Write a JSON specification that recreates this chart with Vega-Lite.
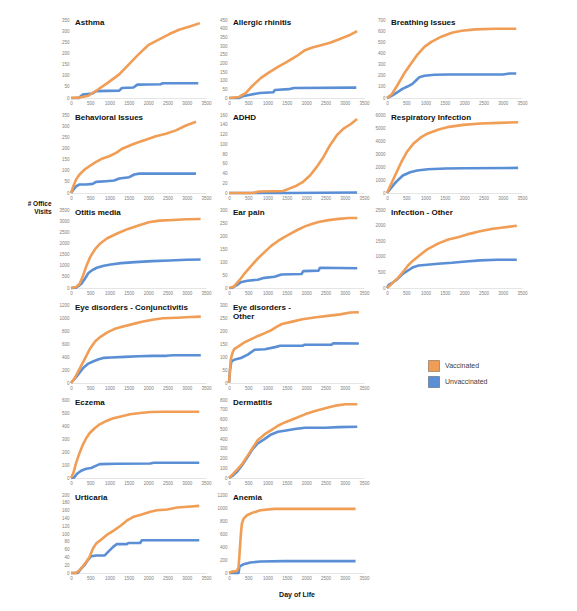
{
  "$schema": "https://vega.github.io/schema/vega-lite/v6.json",
  "description": "Cumulative office visits by day of life, vaccinated vs unvaccinated, for 16 conditions.",
  "autosize": {"type": "pad"},
  "padding": {"left": 27, "top": 17, "right": 5, "bottom": 5},
  "background": "white",
  "columns": 3,
  "spacing": {"row": 17, "column": 23},
  "bounds": "flush",
  "resolve": {"scale": {"color": "independent"}},
  "datasets": {
    "asthma": [
      {"s":"U","x":0,"y":0},{"s":"U","x":200,"y":0},{"s":"U","x":300,"y":15},{"s":"U","x":550,"y":20},{"s":"U","x":650,"y":31},{"s":"U","x":1250,"y":33},{"s":"U","x":1320,"y":45},{"s":"U","x":1620,"y":47},{"s":"U","x":1720,"y":60},{"s":"U","x":2320,"y":62},{"s":"U","x":2380,"y":66},{"s":"U","x":3300,"y":66},
      {"s":"V","x":0,"y":0},{"s":"V","x":250,"y":3},{"s":"V","x":450,"y":10},{"s":"V","x":700,"y":38},{"s":"V","x":950,"y":68},{"s":"V","x":1250,"y":106},{"s":"V","x":1500,"y":151},{"s":"V","x":1750,"y":196},{"s":"V","x":2000,"y":237},{"s":"V","x":2300,"y":264},{"s":"V","x":2550,"y":287},{"s":"V","x":2800,"y":306},{"s":"V","x":3080,"y":321},{"s":"V","x":3340,"y":336}
    ],
    "allergic": [
      {"s":"U","x":0,"y":0},{"s":"U","x":250,"y":0},{"s":"U","x":350,"y":10},{"s":"U","x":550,"y":19},{"s":"U","x":800,"y":29},{"s":"U","x":1150,"y":33},{"s":"U","x":1190,"y":46},{"s":"U","x":1550,"y":51},{"s":"U","x":1680,"y":58},{"s":"U","x":3300,"y":60},
      {"s":"V","x":0,"y":0},{"s":"V","x":260,"y":6},{"s":"V","x":440,"y":29},{"s":"V","x":610,"y":71},{"s":"V","x":830,"y":116},{"s":"V","x":1050,"y":149},{"s":"V","x":1270,"y":180},{"s":"V","x":1490,"y":207},{"s":"V","x":1750,"y":241},{"s":"V","x":1970,"y":276},{"s":"V","x":2140,"y":290},{"s":"V","x":2360,"y":303},{"s":"V","x":2620,"y":319},{"s":"V","x":2890,"y":342},{"s":"V","x":3150,"y":365},{"s":"V","x":3320,"y":386}
    ],
    "breathing": [
      {"s":"U","x":0,"y":0},{"s":"U","x":130,"y":21},{"s":"U","x":265,"y":51},{"s":"U","x":400,"y":82},{"s":"U","x":530,"y":103},{"s":"U","x":660,"y":127},{"s":"U","x":750,"y":157},{"s":"U","x":840,"y":187},{"s":"U","x":970,"y":199},{"s":"U","x":1230,"y":208},{"s":"U","x":1590,"y":211},{"s":"U","x":3000,"y":211},{"s":"U","x":3180,"y":220},{"s":"U","x":3350,"y":220},
      {"s":"V","x":0,"y":0},{"s":"V","x":130,"y":36},{"s":"V","x":265,"y":112},{"s":"V","x":440,"y":217},{"s":"V","x":620,"y":308},{"s":"V","x":790,"y":390},{"s":"V","x":970,"y":459},{"s":"V","x":1150,"y":504},{"s":"V","x":1410,"y":550},{"s":"V","x":1680,"y":586},{"s":"V","x":1940,"y":604},{"s":"V","x":2290,"y":616},{"s":"V","x":2820,"y":622},{"s":"V","x":3350,"y":622}
    ],
    "behavioral": [
      {"s":"U","x":0,"y":0},{"s":"U","x":60,"y":15},{"s":"U","x":130,"y":30},{"s":"U","x":220,"y":38},{"s":"U","x":390,"y":38},{"s":"U","x":560,"y":41},{"s":"U","x":650,"y":50},{"s":"U","x":910,"y":53},{"s":"U","x":1120,"y":56},{"s":"U","x":1250,"y":65},{"s":"U","x":1510,"y":71},{"s":"U","x":1640,"y":83},{"s":"U","x":1770,"y":87},{"s":"U","x":3240,"y":87},
      {"s":"V","x":0,"y":0},{"s":"V","x":60,"y":30},{"s":"V","x":130,"y":60},{"s":"V","x":220,"y":83},{"s":"V","x":350,"y":105},{"s":"V","x":475,"y":120},{"s":"V","x":650,"y":140},{"s":"V","x":820,"y":155},{"s":"V","x":990,"y":165},{"s":"V","x":1170,"y":180},{"s":"V","x":1340,"y":200},{"s":"V","x":1510,"y":212},{"s":"V","x":1690,"y":224},{"s":"V","x":1940,"y":239},{"s":"V","x":2200,"y":255},{"s":"V","x":2460,"y":266},{"s":"V","x":2720,"y":281},{"s":"V","x":2980,"y":303},{"s":"V","x":3240,"y":320}
    ],
    "adhd": [
      {"s":"U","x":0,"y":0},{"s":"U","x":1500,"y":0},{"s":"U","x":3320,"y":1},
      {"s":"V","x":0,"y":0},{"s":"V","x":610,"y":0},{"s":"V","x":790,"y":3},{"s":"V","x":1400,"y":4},{"s":"V","x":1530,"y":8},{"s":"V","x":1750,"y":15},{"s":"V","x":1920,"y":23},{"s":"V","x":2100,"y":36},{"s":"V","x":2270,"y":53},{"s":"V","x":2450,"y":74},{"s":"V","x":2620,"y":98},{"s":"V","x":2800,"y":119},{"s":"V","x":2970,"y":132},{"s":"V","x":3150,"y":141},{"s":"V","x":3320,"y":152}
    ],
    "resp": [
      {"s":"U","x":0,"y":0},{"s":"U","x":90,"y":330},{"s":"U","x":230,"y":840},{"s":"U","x":410,"y":1350},{"s":"U","x":600,"y":1600},{"s":"U","x":780,"y":1730},{"s":"U","x":1060,"y":1830},{"s":"U","x":1520,"y":1880},{"s":"U","x":1980,"y":1900},{"s":"U","x":3400,"y":1930},
      {"s":"V","x":0,"y":0},{"s":"V","x":90,"y":585},{"s":"V","x":230,"y":1475},{"s":"V","x":370,"y":2366},{"s":"V","x":510,"y":3130},{"s":"V","x":690,"y":3817},{"s":"V","x":875,"y":4275},{"s":"V","x":1060,"y":4580},{"s":"V","x":1340,"y":4885},{"s":"V","x":1610,"y":5089},{"s":"V","x":1980,"y":5242},{"s":"V","x":2440,"y":5344},{"s":"V","x":2900,"y":5394},{"s":"V","x":3400,"y":5445}
    ],
    "otitis": [
      {"s":"U","x":0,"y":0},{"s":"U","x":135,"y":15},{"s":"U","x":270,"y":194},{"s":"U","x":360,"y":417},{"s":"U","x":450,"y":670},{"s":"U","x":540,"y":789},{"s":"U","x":670,"y":908},{"s":"U","x":850,"y":998},{"s":"U","x":1030,"y":1057},{"s":"U","x":1300,"y":1117},{"s":"U","x":1660,"y":1162},{"s":"U","x":2110,"y":1206},{"s":"U","x":2560,"y":1236},{"s":"U","x":3000,"y":1266},{"s":"U","x":3360,"y":1281},
      {"s":"V","x":0,"y":0},{"s":"V","x":135,"y":45},{"s":"V","x":225,"y":194},{"s":"V","x":315,"y":566},{"s":"V","x":405,"y":1013},{"s":"V","x":495,"y":1385},{"s":"V","x":630,"y":1757},{"s":"V","x":765,"y":2011},{"s":"V","x":940,"y":2234},{"s":"V","x":1210,"y":2457},{"s":"V","x":1480,"y":2651},{"s":"V","x":1750,"y":2800},{"s":"V","x":2020,"y":2949},{"s":"V","x":2290,"y":3024},{"s":"V","x":2650,"y":3053},{"s":"V","x":3000,"y":3083},{"s":"V","x":3360,"y":3098}
    ],
    "ear": [
      {"s":"U","x":0,"y":0},{"s":"U","x":90,"y":1},{"s":"U","x":220,"y":13},{"s":"U","x":305,"y":22},{"s":"U","x":480,"y":28},{"s":"U","x":745,"y":32},{"s":"U","x":920,"y":39},{"s":"U","x":1180,"y":43},{"s":"U","x":1360,"y":52},{"s":"U","x":1880,"y":54},{"s":"U","x":1925,"y":65},{"s":"U","x":2320,"y":67},{"s":"U","x":2360,"y":78},{"s":"U","x":3325,"y":76},
      {"s":"V","x":0,"y":0},{"s":"V","x":130,"y":6},{"s":"V","x":260,"y":28},{"s":"V","x":395,"y":54},{"s":"V","x":570,"y":84},{"s":"V","x":745,"y":113},{"s":"V","x":920,"y":138},{"s":"V","x":1095,"y":162},{"s":"V","x":1270,"y":181},{"s":"V","x":1445,"y":197},{"s":"V","x":1620,"y":211},{"s":"V","x":1795,"y":225},{"s":"V","x":1970,"y":237},{"s":"V","x":2145,"y":246},{"s":"V","x":2320,"y":254},{"s":"V","x":2580,"y":261},{"s":"V","x":2845,"y":266},{"s":"V","x":3105,"y":269},{"s":"V","x":3325,"y":269}
    ],
    "infection": [
      {"s":"U","x":0,"y":0},{"s":"U","x":45,"y":97},{"s":"U","x":135,"y":162},{"s":"U","x":275,"y":291},{"s":"U","x":410,"y":453},{"s":"U","x":545,"y":560},{"s":"U","x":680,"y":668},{"s":"U","x":820,"y":722},{"s":"U","x":1045,"y":744},{"s":"U","x":1320,"y":776},{"s":"U","x":1680,"y":808},{"s":"U","x":2045,"y":851},{"s":"U","x":2410,"y":884},{"s":"U","x":2865,"y":905},{"s":"U","x":3365,"y":905},
      {"s":"V","x":0,"y":0},{"s":"V","x":90,"y":97},{"s":"V","x":180,"y":205},{"s":"V","x":275,"y":312},{"s":"V","x":410,"y":506},{"s":"V","x":545,"y":722},{"s":"V","x":680,"y":884},{"s":"V","x":865,"y":1067},{"s":"V","x":1045,"y":1239},{"s":"V","x":1320,"y":1422},{"s":"V","x":1590,"y":1552},{"s":"V","x":1865,"y":1638},{"s":"V","x":2135,"y":1735},{"s":"V","x":2410,"y":1821},{"s":"V","x":2680,"y":1886},{"s":"V","x":2955,"y":1929},{"s":"V","x":3365,"y":1994}
    ],
    "conj": [
      {"s":"U","x":0,"y":0},{"s":"U","x":135,"y":93},{"s":"U","x":315,"y":232},{"s":"U","x":450,"y":299},{"s":"U","x":585,"y":335},{"s":"U","x":720,"y":366},{"s":"U","x":855,"y":387},{"s":"U","x":1030,"y":392},{"s":"U","x":1390,"y":402},{"s":"U","x":1750,"y":412},{"s":"U","x":2110,"y":418},{"s":"U","x":2470,"y":418},{"s":"U","x":2650,"y":428},{"s":"U","x":3365,"y":428},
      {"s":"V","x":0,"y":0},{"s":"V","x":90,"y":67},{"s":"V","x":225,"y":221},{"s":"V","x":360,"y":376},{"s":"V","x":495,"y":531},{"s":"V","x":630,"y":644},{"s":"V","x":765,"y":711},{"s":"V","x":940,"y":778},{"s":"V","x":1120,"y":830},{"s":"V","x":1300,"y":861},{"s":"V","x":1570,"y":902},{"s":"V","x":1840,"y":943},{"s":"V","x":2110,"y":974},{"s":"V","x":2380,"y":995},{"s":"V","x":2740,"y":1005},{"s":"V","x":3100,"y":1015},{"s":"V","x":3365,"y":1021}
    ],
    "eyeother": [
      {"s":"U","x":0,"y":0},{"s":"U","x":27,"y":51},{"s":"U","x":62,"y":83},{"s":"U","x":133,"y":89},{"s":"U","x":310,"y":96},{"s":"U","x":487,"y":109},{"s":"U","x":665,"y":128},{"s":"U","x":930,"y":130},{"s":"U","x":1196,"y":138},{"s":"U","x":1329,"y":143},{"s":"U","x":1905,"y":143},{"s":"U","x":1949,"y":147},{"s":"U","x":2658,"y":147},{"s":"U","x":2703,"y":153},{"s":"U","x":3367,"y":152},
      {"s":"V","x":0,"y":0},{"s":"V","x":27,"y":51},{"s":"V","x":44,"y":89},{"s":"V","x":89,"y":115},{"s":"V","x":133,"y":130},{"s":"V","x":266,"y":143},{"s":"V","x":399,"y":156},{"s":"V","x":576,"y":169},{"s":"V","x":753,"y":181},{"s":"V","x":930,"y":192},{"s":"V","x":1108,"y":204},{"s":"V","x":1241,"y":217},{"s":"V","x":1373,"y":227},{"s":"V","x":1639,"y":236},{"s":"V","x":1905,"y":245},{"s":"V","x":2259,"y":253},{"s":"V","x":2614,"y":259},{"s":"V","x":2880,"y":264},{"s":"V","x":3146,"y":271},{"s":"V","x":3367,"y":272}
    ],
    "eczema": [
      {"s":"U","x":0,"y":0},{"s":"U","x":87,"y":5},{"s":"U","x":149,"y":31},{"s":"U","x":262,"y":56},{"s":"U","x":394,"y":71},{"s":"U","x":525,"y":77},{"s":"U","x":612,"y":89},{"s":"U","x":744,"y":107},{"s":"U","x":1181,"y":110},{"s":"U","x":2056,"y":112},{"s":"U","x":2144,"y":117},{"s":"U","x":3325,"y":117},
      {"s":"V","x":0,"y":0},{"s":"V","x":61,"y":38},{"s":"V","x":131,"y":115},{"s":"V","x":219,"y":191},{"s":"V","x":306,"y":255},{"s":"V","x":394,"y":306},{"s":"V","x":481,"y":344},{"s":"V","x":612,"y":383},{"s":"V","x":744,"y":413},{"s":"V","x":919,"y":439},{"s":"V","x":1094,"y":459},{"s":"V","x":1269,"y":472},{"s":"V","x":1531,"y":490},{"s":"V","x":1794,"y":500},{"s":"V","x":2056,"y":508},{"s":"V","x":2406,"y":510},{"s":"V","x":3325,"y":510}
    ],
    "dermatitis": [
      {"s":"U","x":0,"y":0},{"s":"U","x":87,"y":21},{"s":"U","x":219,"y":69},{"s":"U","x":350,"y":137},{"s":"U","x":481,"y":216},{"s":"U","x":612,"y":296},{"s":"U","x":744,"y":354},{"s":"U","x":919,"y":399},{"s":"U","x":1094,"y":447},{"s":"U","x":1269,"y":474},{"s":"U","x":1444,"y":485},{"s":"U","x":1706,"y":502},{"s":"U","x":1969,"y":515},{"s":"U","x":2494,"y":515},{"s":"U","x":2844,"y":522},{"s":"U","x":3325,"y":526},
      {"s":"V","x":0,"y":0},{"s":"V","x":87,"y":34},{"s":"V","x":219,"y":89},{"s":"V","x":350,"y":148},{"s":"V","x":481,"y":227},{"s":"V","x":612,"y":309},{"s":"V","x":744,"y":388},{"s":"V","x":919,"y":447},{"s":"V","x":1094,"y":491},{"s":"V","x":1269,"y":536},{"s":"V","x":1444,"y":570},{"s":"V","x":1706,"y":611},{"s":"V","x":1969,"y":653},{"s":"V","x":2231,"y":687},{"s":"V","x":2494,"y":715},{"s":"V","x":2756,"y":742},{"s":"V","x":3019,"y":756},{"s":"V","x":3325,"y":756}
    ],
    "urticaria": [
      {"s":"U","x":0,"y":0},{"s":"U","x":175,"y":0},{"s":"U","x":262,"y":11},{"s":"U","x":350,"y":20},{"s":"U","x":437,"y":33},{"s":"U","x":525,"y":43},{"s":"U","x":656,"y":45},{"s":"U","x":875,"y":45},{"s":"U","x":962,"y":54},{"s":"U","x":1094,"y":67},{"s":"U","x":1181,"y":74},{"s":"U","x":1444,"y":74},{"s":"U","x":1487,"y":77},{"s":"U","x":1794,"y":77},{"s":"U","x":1837,"y":84},{"s":"U","x":3325,"y":84},
      {"s":"V","x":0,"y":0},{"s":"V","x":131,"y":0},{"s":"V","x":219,"y":7},{"s":"V","x":306,"y":17},{"s":"V","x":394,"y":28},{"s":"V","x":481,"y":41},{"s":"V","x":569,"y":63},{"s":"V","x":656,"y":76},{"s":"V","x":787,"y":86},{"s":"V","x":919,"y":97},{"s":"V","x":1094,"y":108},{"s":"V","x":1269,"y":120},{"s":"V","x":1444,"y":134},{"s":"V","x":1619,"y":144},{"s":"V","x":1794,"y":149},{"s":"V","x":2056,"y":157},{"s":"V","x":2231,"y":161},{"s":"V","x":2494,"y":163},{"s":"V","x":2756,"y":168},{"s":"V","x":3019,"y":170},{"s":"V","x":3325,"y":172}
    ],
    "anemia": [
      {"s":"U","x":0,"y":0},{"s":"U","x":246,"y":0},{"s":"U","x":273,"y":99},{"s":"U","x":378,"y":135},{"s":"U","x":554,"y":161},{"s":"U","x":818,"y":177},{"s":"U","x":1434,"y":182},{"s":"U","x":3282,"y":182},
      {"s":"V","x":0,"y":0},{"s":"V","x":70,"y":21},{"s":"V","x":202,"y":31},{"s":"V","x":246,"y":83},{"s":"V","x":273,"y":291},{"s":"V","x":308,"y":603},{"s":"V","x":334,"y":758},{"s":"V","x":378,"y":836},{"s":"V","x":466,"y":888},{"s":"V","x":598,"y":925},{"s":"V","x":818,"y":966},{"s":"V","x":1170,"y":987},{"s":"V","x":3282,"y":987}
    ],
    "groups": [{"k":"Vaccinated"},{"k":"Unvaccinated"}]
  },
  "concat": [
    {"title": {"text": "Asthma"}, "data": {"name": "asthma"}, "mark": "line",
     "encoding": {
       "x": {"field":"x","type":"quantitative","title":null,"scale":{"domain":[0,3500],"nice":false},"axis":{"tickCount":7,"format":"d"}},
       "y": {"field":"y","type":"quantitative","title":null,"scale":{"domain":[0,350],"nice":false},"axis":{"tickCount":7,"format":"d"}},
       "color": {"field":"s","type":"nominal","scale":{"domain":["V","U"],"range":["#F09D55","#5A8ED5"]},"legend":null}}},
    {"title": {"text": "Allergic rhinitis"}, "data": {"name": "allergic"}, "mark": "line",
     "encoding": {
       "x": {"field":"x","type":"quantitative","title":null,"scale":{"domain":[0,3500],"nice":false},"axis":{"tickCount":7,"format":"d"}},
       "y": {"field":"y","type":"quantitative","title":null,"scale":{"domain":[0,450],"nice":false},"axis":{"tickCount":9,"format":"d"}},
       "color": {"field":"s","type":"nominal","scale":{"domain":["V","U"],"range":["#F09D55","#5A8ED5"]},"legend":null}}},
    {"title": {"text": "Breathing Issues"}, "data": {"name": "breathing"}, "mark": "line",
     "encoding": {
       "x": {"field":"x","type":"quantitative","title":null,"scale":{"domain":[0,3500],"nice":false},"axis":{"tickCount":7,"format":"d"}},
       "y": {"field":"y","type":"quantitative","title":null,"scale":{"domain":[0,700],"nice":false},"axis":{"tickCount":7,"format":"d"}},
       "color": {"field":"s","type":"nominal","scale":{"domain":["V","U"],"range":["#F09D55","#5A8ED5"]},"legend":null}}},
    {"title": {"text": "Behavioral Issues"}, "data": {"name": "behavioral"}, "mark": "line",
     "encoding": {
       "x": {"field":"x","type":"quantitative","title":null,"scale":{"domain":[0,3500],"nice":false},"axis":{"tickCount":7,"format":"d"}},
       "y": {"field":"y","type":"quantitative","title":["# Office","Visits"],"scale":{"domain":[0,350],"nice":false},
             "axis":{"tickCount":7,"format":"d","titleAngle":0,"titleAlign":"right","titleBaseline":"middle","titleX":-20,"titleY":88,"titleFontSize":6.5,"titleLineHeight":8,"titleColor":"#111111"}},
       "color": {"field":"s","type":"nominal","scale":{"domain":["V","U"],"range":["#F09D55","#5A8ED5"]},"legend":null}}},
    {"title": {"text": "ADHD"}, "data": {"name": "adhd"}, "mark": "line",
     "encoding": {
       "x": {"field":"x","type":"quantitative","title":null,"scale":{"domain":[0,3500],"nice":false},"axis":{"tickCount":7,"format":"d"}},
       "y": {"field":"y","type":"quantitative","title":null,"scale":{"domain":[0,160],"nice":false},"axis":{"tickCount":8,"format":"d"}},
       "color": {"field":"s","type":"nominal","scale":{"domain":["V","U"],"range":["#F09D55","#5A8ED5"]},"legend":null}}},
    {"title": {"text": "Respiratory Infection"}, "data": {"name": "resp"}, "mark": "line",
     "encoding": {
       "x": {"field":"x","type":"quantitative","title":null,"scale":{"domain":[0,3500],"nice":false},"axis":{"tickCount":7,"format":"d"}},
       "y": {"field":"y","type":"quantitative","title":null,"scale":{"domain":[0,6000],"nice":false},"axis":{"tickCount":6,"format":"d"}},
       "color": {"field":"s","type":"nominal","scale":{"domain":["V","U"],"range":["#F09D55","#5A8ED5"]},"legend":null}}},
    {"title": {"text": "Otitis media"}, "data": {"name": "otitis"}, "mark": "line",
     "encoding": {
       "x": {"field":"x","type":"quantitative","title":null,"scale":{"domain":[0,3500],"nice":false},"axis":{"tickCount":7,"format":"d"}},
       "y": {"field":"y","type":"quantitative","title":null,"scale":{"domain":[0,3500],"nice":false},"axis":{"tickCount":7,"format":"d"}},
       "color": {"field":"s","type":"nominal","scale":{"domain":["V","U"],"range":["#F09D55","#5A8ED5"]},"legend":null}}},
    {"title": {"text": "Ear pain"}, "data": {"name": "ear"}, "mark": "line",
     "encoding": {
       "x": {"field":"x","type":"quantitative","title":null,"scale":{"domain":[0,3500],"nice":false},"axis":{"tickCount":7,"format":"d"}},
       "y": {"field":"y","type":"quantitative","title":null,"scale":{"domain":[0,300],"nice":false},"axis":{"tickCount":6,"format":"d"}},
       "color": {"field":"s","type":"nominal","scale":{"domain":["V","U"],"range":["#F09D55","#5A8ED5"]},"legend":null}}},
    {"title": {"text": "Infection - Other"}, "data": {"name": "infection"}, "mark": "line",
     "encoding": {
       "x": {"field":"x","type":"quantitative","title":null,"scale":{"domain":[0,3500],"nice":false},"axis":{"tickCount":7,"format":"d"}},
       "y": {"field":"y","type":"quantitative","title":null,"scale":{"domain":[0,2500],"nice":false},"axis":{"tickCount":5,"format":"d"}},
       "color": {"field":"s","type":"nominal","scale":{"domain":["V","U"],"range":["#F09D55","#5A8ED5"]},"legend":null}}},
    {"title": {"text": "Eye disorders - Conjunctivitis"}, "data": {"name": "conj"}, "mark": "line",
     "encoding": {
       "x": {"field":"x","type":"quantitative","title":null,"scale":{"domain":[0,3500],"nice":false},"axis":{"tickCount":7,"format":"d"}},
       "y": {"field":"y","type":"quantitative","title":null,"scale":{"domain":[0,1200],"nice":false},"axis":{"tickCount":6,"format":"d"}},
       "color": {"field":"s","type":"nominal","scale":{"domain":["V","U"],"range":["#F09D55","#5A8ED5"]},"legend":null}}},
    {"title": {"text": ["Eye disorders -", "Other"], "offset": -19}, "data": {"name": "eyeother"}, "mark": "line",
     "encoding": {
       "x": {"field":"x","type":"quantitative","title":null,"scale":{"domain":[0,3500],"nice":false},"axis":{"tickCount":7,"format":"d"}},
       "y": {"field":"y","type":"quantitative","title":null,"scale":{"domain":[0,300],"nice":false},"axis":{"tickCount":6,"format":"d"}},
       "color": {"field":"s","type":"nominal","scale":{"domain":["V","U"],"range":["#F09D55","#5A8ED5"]},"legend":null}}},
    {"data": {"name": "groups"}, "width": 135, "height": 78,
     "mark": {"type": "square", "filled": true, "opacity": 0},
     "encoding": {
       "color": {"field":"k","type":"nominal","title":null,"scale":{"domain":["Vaccinated","Unvaccinated"],"range":["#F09D55","#5A8ED5"]},
                 "legend":{"orient":"none","legendX":41,"legendY":55,"symbolType":"square","symbolSize":121,"symbolOpacity":1,"symbolStrokeColor":"rgba(0,0,0,0.3)","symbolStrokeWidth":1,"labelFontSize":7,"labelColor":"#404040","labelOffset":5,"rowPadding":0,"padding":0}}}},
    {"title": {"text": "Eczema"}, "data": {"name": "eczema"}, "mark": "line",
     "encoding": {
       "x": {"field":"x","type":"quantitative","title":null,"scale":{"domain":[0,3500],"nice":false},"axis":{"tickCount":7,"format":"d"}},
       "y": {"field":"y","type":"quantitative","title":null,"scale":{"domain":[0,600],"nice":false},"axis":{"tickCount":6,"format":"d"}},
       "color": {"field":"s","type":"nominal","scale":{"domain":["V","U"],"range":["#F09D55","#5A8ED5"]},"legend":null}}},
    {"title": {"text": "Dermatitis"}, "data": {"name": "dermatitis"}, "mark": "line",
     "encoding": {
       "x": {"field":"x","type":"quantitative","title":null,"scale":{"domain":[0,3500],"nice":false},"axis":{"tickCount":7,"format":"d"}},
       "y": {"field":"y","type":"quantitative","title":null,"scale":{"domain":[0,800],"nice":false},"axis":{"tickCount":8,"format":"d"}},
       "color": {"field":"s","type":"nominal","scale":{"domain":["V","U"],"range":["#F09D55","#5A8ED5"]},"legend":null}}},
    {"data": {"values": []}, "width": 135, "height": 78, "mark": "point"},
    {"title": {"text": "Urticaria"}, "data": {"name": "urticaria"}, "mark": "line",
     "encoding": {
       "x": {"field":"x","type":"quantitative","title":null,"scale":{"domain":[0,3500],"nice":false},"axis":{"tickCount":7,"format":"d"}},
       "y": {"field":"y","type":"quantitative","title":null,"scale":{"domain":[0,200],"nice":false},"axis":{"tickCount":10,"format":"d"}},
       "color": {"field":"s","type":"nominal","scale":{"domain":["V","U"],"range":["#F09D55","#5A8ED5"]},"legend":null}}},
    {"title": {"text": "Anemia"}, "data": {"name": "anemia"}, "mark": "line",
     "encoding": {
       "x": {"field":"x","type":"quantitative","title":"Day of Life","scale":{"domain":[0,3500],"nice":false},
             "axis":{"tickCount":7,"format":"d","titleFontSize":7,"titlePadding":11,"titleColor":"#111111"}},
       "y": {"field":"y","type":"quantitative","title":null,"scale":{"domain":[0,1200],"nice":false},"axis":{"tickCount":6,"format":"d"}},
       "color": {"field":"s","type":"nominal","scale":{"domain":["V","U"],"range":["#F09D55","#5A8ED5"]},"legend":null}}}
  ],
  "config": {
    "font": "Liberation Sans",
    "view": {"stroke": null, "continuousWidth": 135, "continuousHeight": 78},
    "axis": {"grid": false, "ticks": false, "domain": false, "labelFontSize": 4.5, "labelColor": "#808080", "labelPadding": 2, "labelOverlap": false, "labelFlush": false, "titleFontWeight": "bold"},
    "axisX": {"domain": true, "domainColor": "#d4d4d4", "domainWidth": 0.6},
    "title": {"anchor": "start", "frame": "group", "offset": -10, "dx": 4, "fontSize": 8, "fontWeight": "bold", "color": "#111111", "lineHeight": 9},
    "line": {"strokeWidth": 2.6, "strokeJoin": "round"}
  }
}
